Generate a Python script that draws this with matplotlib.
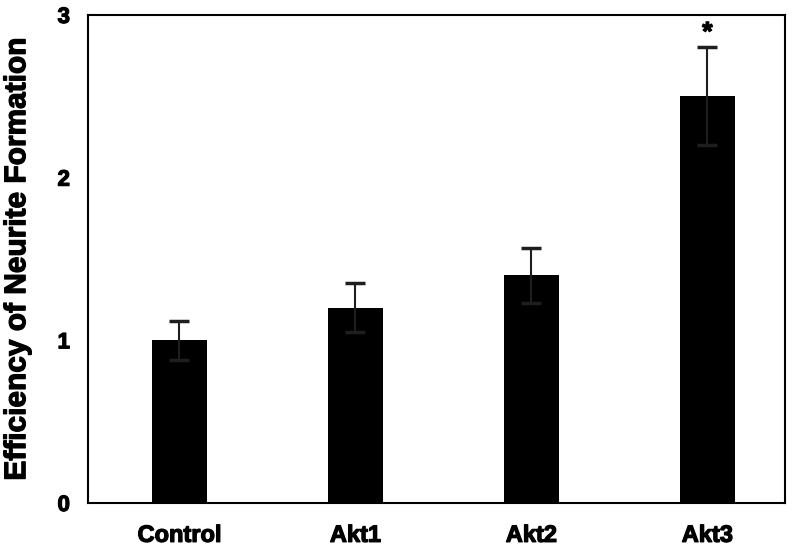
import matplotlib
matplotlib.use("Agg")
import matplotlib.pyplot as plt
import matplotlib.patheffects as pe

categories = ["Control", "Akt1", "Akt2", "Akt3"]
values = [1.0, 1.2, 1.4, 2.5]
errors = [0.12, 0.15, 0.17, 0.30]
signif = ["", "", "", "*"]

plt.rcParams['font.family'] = ['Liberation Sans', 'DejaVu Sans']
plt.rcParams['font.weight'] = 'bold'

heavy = [pe.withStroke(linewidth=0.9, foreground='black')]

fig = plt.figure(figsize=(8, 5.49), dpi=100)
ax = fig.add_axes([0.11, 0.0838, 0.871, 0.889])

x = list(range(len(categories)))
ax.bar(x, values, width=0.31, color='black', zorder=2)
ax.errorbar(x, values, yerr=errors, fmt='none', ecolor='#1e1e1e',
            elinewidth=1.5, capsize=7, capthick=2.5, zorder=3)
for xi, v, e, s in zip(x, values, errors, signif):
    if s:
        t = ax.text(xi, v + e + 0.015, s, ha='center', va='bottom',
                    fontsize=19, fontweight='bold')
        t.set_path_effects(heavy)

ax.set_xlim(-0.52, 3.44)
ax.set_ylim(0, 3)
ax.set_yticks([0, 1, 2, 3])
ax.set_xticks(x)
ax.set_xticklabels(categories)
ax.tick_params(axis='both', length=0)
ax.tick_params(axis='x', labelsize=17, pad=15)
ax.tick_params(axis='y', labelsize=16, pad=13)
for lab in ax.get_xticklabels() + ax.get_yticklabels():
    lab.set_fontweight('bold')
    lab.set_path_effects(heavy)
yl = ax.set_ylabel("Efficiency of Neurite Formation", fontsize=21.5,
                   fontweight='bold', labelpad=19)
yl.set_path_effects(heavy)
for sp in ax.spines.values():
    sp.set_linewidth(1.5)
    sp.set_color('black')

fig.savefig("out.png", dpi=100)
